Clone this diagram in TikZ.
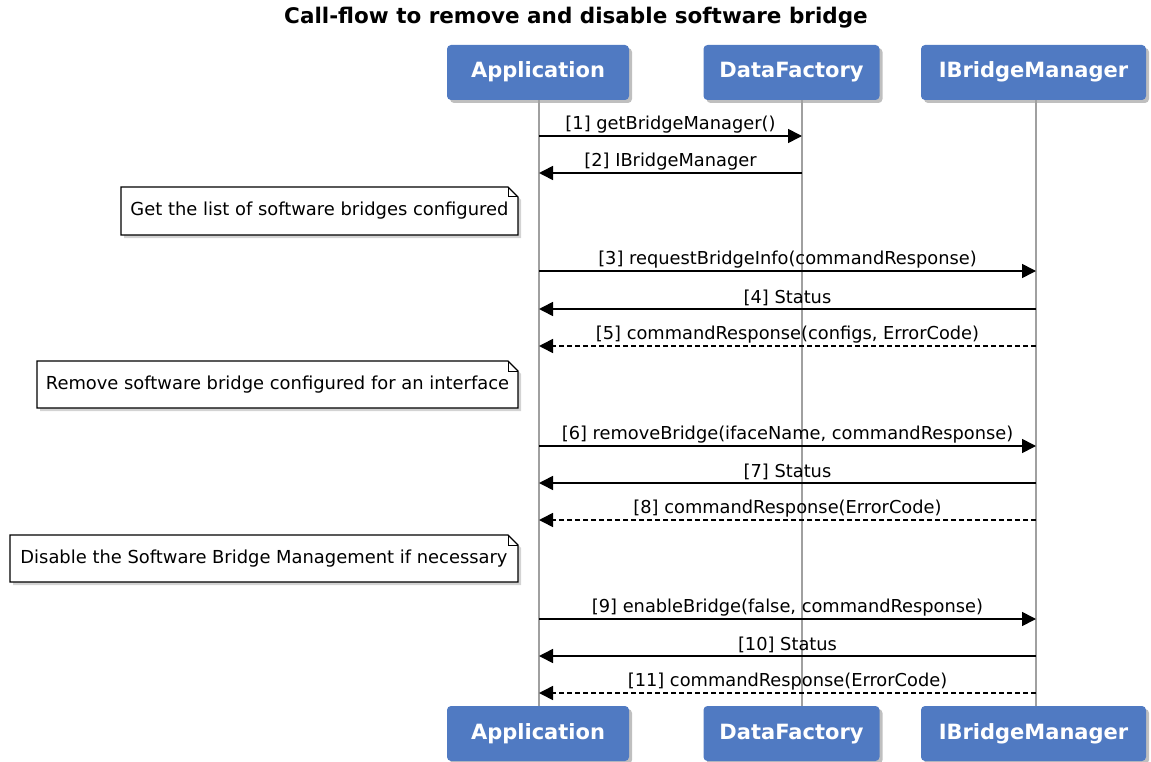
\documentclass[tikz,border=0pt]{standalone}
\usepackage{fontspec}
\setmainfont{DejaVu Sans}
\usetikzlibrary{arrows.meta,shadows}
\definecolor{partblue}{RGB}{80,122,194}
\definecolor{lifegray}{RGB}{160,160,160}
\tikzset{
  part/.style={fill=partblue, rounded corners=4pt, text=white, inner sep=0pt,
    font=\fontsize{21}{24}\selectfont\bfseries, minimum height=55pt,
    text height=15.5pt, text depth=4.5pt,
    drop shadow={shadow xshift=3pt, shadow yshift=-3pt, opacity=0.5}},
  lifeline/.style={draw=lifegray, line width=1.6pt},
  msg/.style={line width=1.6pt, -{Triangle[length=14pt,width=14pt]}},
  ret/.style={msg, dash pattern=on 5pt off 3pt},
  lbl/.style={font=\fontsize{17.8}{20}\selectfont, inner sep=0pt},
  notebox/.style={inner sep=0pt, font=\fontsize{17.9}{20}\selectfont},
  noteline/.style={draw=black, line width=1.3pt, fill=white,
    drop shadow={shadow xshift=3pt, shadow yshift=-3pt, opacity=0.35}},
}
\begin{document}
\begin{tikzpicture}[x=1pt,y=-1pt]
\path[use as bounding box] (0,0) rectangle (1151,762);
\node[font=\fontsize{21.5}{24}\selectfont\bfseries] (title) at (576,18) {Call-flow to remove and disable software bridge};
% participants
\node[part, minimum width=182pt] (A) at (538,72.5) {Application};
\node[part, minimum width=176pt] (D) at (791.5,72.5) {DataFactory};
\node[part, minimum width=225pt] (B) at (1033.5,72.5) {IBridgeManager};
\node[part, minimum width=182pt] (A2) at (538,733.5) {Application};
\node[part, minimum width=176pt] (D2) at (791.5,733.5) {DataFactory};
\node[part, minimum width=225pt] (B2) at (1033.5,733.5) {IBridgeManager};
% lifelines
\coordinate (la) at (539,100); \coordinate (la2) at (539,706);
\coordinate (ld) at (802,100); \coordinate (ld2) at (802,706);
\coordinate (lb) at (1036,100); \coordinate (lb2) at (1036,706);
\draw[lifeline] (la) -- (la2);
\draw[lifeline] (ld) -- (ld2);
\draw[lifeline] (lb) -- (lb2);
% notes
\newcommand{\notebody}[5]{% name, x1, y1, x2, y2
  \path[noteline] (#2,#3) -- (#4-10,#3) -- (#4,#3+10) -- (#4,#5) -- (#2,#5) -- cycle;
  \draw[line width=1pt] (#4-10,#3) -- (#4-10,#3+10) -- (#4,#3+10);
}
\notebody{n1}{121}{187}{518}{235}
\node[notebox] (n1) at (319.5,211) {Get the list of software bridges configured};
\notebody{n2}{37}{361}{518}{408}
\node[notebox] (n2) at (277.5,384.5) {Remove software bridge configured for an interface};
\notebody{n3}{10}{535}{518}{582}
\node[notebox] (n3) at (264,558.5) {Disable the Software Bridge Management if necessary};
% messages
\draw[msg] (la |- 0,136) -- node[lbl, above=2pt] {[1] getBridgeManager()} (ld |- 0,136);
\draw[msg] (ld |- 0,173) -- node[lbl, above=2pt] {[2] IBridgeManager} (la |- 0,173);
\draw[msg] (la |- 0,271) -- node[lbl, above=2pt] {[3] requestBridgeInfo(commandResponse)} (lb |- 0,271);
\draw[msg] (lb |- 0,309) -- node[lbl, above=2pt] {[4] Status} (la |- 0,309);
\draw[ret] (lb |- 0,346) -- node[lbl, above=2pt] {[5] commandResponse(configs, ErrorCode)} (la |- 0,346);
\draw[msg] (la |- 0,446) -- node[lbl, above=2pt] {[6] removeBridge(ifaceName, commandResponse)} (lb |- 0,446);
\draw[msg] (lb |- 0,483) -- node[lbl, above=2pt] {[7] Status} (la |- 0,483);
\draw[ret] (lb |- 0,520) -- node[lbl, above=2pt] {[8] commandResponse(ErrorCode)} (la |- 0,520);
\draw[msg] (la |- 0,619) -- node[lbl, above=2pt] {[9] enableBridge(false, commandResponse)} (lb |- 0,619);
\draw[msg] (lb |- 0,656) -- node[lbl, above=2pt] {[10] Status} (la |- 0,656);
\draw[ret] (lb |- 0,693) -- node[lbl, above=2pt] {[11] commandResponse(ErrorCode)} (la |- 0,693);
\end{tikzpicture}
\end{document}
